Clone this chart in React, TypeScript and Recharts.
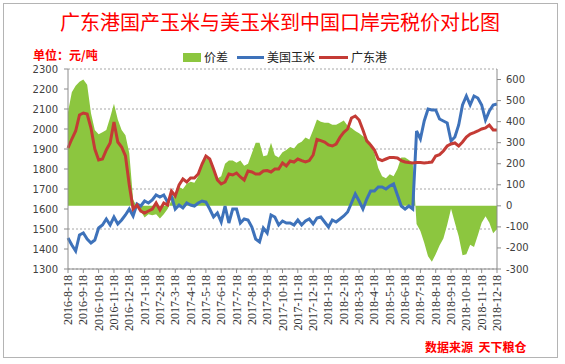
import React from "react";
import { Area, CartesianGrid, ComposedChart, Line, XAxis, YAxis } from "recharts";

// month tick labels (one every 4 weekly samples)
const months = [
  "2016-8-18", "2016-9-18", "2016-10-18", "2016-11-18", "2016-12-18",
  "2017-1-18", "2017-2-18", "2017-3-18", "2017-4-18", "2017-5-18", "2017-6-18",
  "2017-7-18", "2017-8-18", "2017-9-18", "2017-10-18", "2017-11-18", "2017-12-18",
  "2018-1-18", "2018-2-18", "2018-3-18", "2018-4-18", "2018-5-18", "2018-6-18",
  "2018-7-18", "2018-8-18", "2018-9-18", "2018-10-18", "2018-11-18", "2018-12-18",
];

// 美国玉米 (left axis, 元/吨), weekly
const usCorn = [
  1455, 1420, 1390, 1470, 1480, 1450, 1430, 1445, 1505, 1520,
  1550, 1520, 1560, 1525, 1545, 1570, 1600, 1565, 1625, 1615,
  1640, 1630, 1645, 1670, 1660, 1670, 1635, 1665, 1600, 1620,
  1605, 1630, 1620, 1615, 1630, 1640, 1635, 1600, 1560, 1580,
  1535, 1615, 1530, 1600, 1600, 1530, 1550, 1545, 1510, 1450,
  1435, 1505, 1480, 1570, 1560, 1520, 1540, 1530, 1530, 1520,
  1545, 1520, 1540, 1550, 1525, 1555, 1560, 1535, 1510, 1545,
  1535, 1550, 1565, 1585, 1630, 1675, 1640, 1600, 1650, 1690,
  1690, 1710, 1710, 1700, 1715, 1725, 1670, 1615, 1600, 1615,
  1600, 1990, 1950, 2040, 2100, 2095, 2095, 2050, 2040, 2030,
  1940, 1960, 2020, 2120, 2165, 2120, 2165, 2155, 2120, 2045,
  2090, 2120, 2125,
];

// 广东港 (left axis, 元/吨), weekly
const gdPort = [
  1905, 1950, 1990, 2070, 2080, 2075, 2005, 1900, 1845, 1850,
  1895, 1930, 2035, 1935, 1910, 1865, 1720, 1600, 1620, 1590,
  1580, 1590, 1600, 1630, 1595, 1630, 1620, 1690, 1665, 1720,
  1750, 1735, 1755, 1755, 1775, 1825, 1865, 1850, 1800, 1745,
  1725, 1735, 1775, 1770, 1780, 1760, 1745, 1790, 1785, 1775,
  1775, 1790, 1792, 1785, 1800, 1800, 1830, 1815, 1840, 1835,
  1850, 1842, 1835, 1842, 1870, 1948, 1942, 1935, 1920, 1915,
  1925, 1958, 1983, 2000, 2055, 2065, 2045, 1995, 1940, 1920,
  1895, 1850, 1842, 1850, 1858, 1858, 1855, 1842, 1835, 1832,
  1830, 1832, 1832, 1830, 1832, 1835, 1865, 1872, 1890, 1915,
  1925, 1930, 1915, 1935, 1960, 1975, 1982, 1990, 2000, 2005,
  2020, 1995, 1995,
];

// 价差 (right axis), weekly
const spread = [
  446, 540, 570, 590, 600, 575, 440, 360, 340, 350,
  360, 420, 485, 410, 360, 335, 250, 30, -5, -25,
  -55, -40, -45, -40, -60, -40, -15, 25, 60, 90,
  80, 105, 115, 110, 140, 200, 225, 220, 175, 130,
  140, 200, 215, 215, 205, 215, 190, 200, 250, 300,
  300, 235, 240, 300, 240, 230, 255, 265, 280, 272,
  295, 305, 325, 315, 360, 410, 400, 395, 395, 385,
  385, 395, 405, 380, 370, 355, 345, 330, 320, 300,
  250, 180, 140, 131, 150, 140, 175, 230, 230, 218,
  205, -86, -120, -175, -240, -265, -230, -188, -155, -90,
  -14, -80, -145, -235, -230, -185, -196, -140, -80, -50,
  -80, -130, -110,
];

const leftTicks = [1300, 1400, 1500, 1600, 1700, 1800, 1900, 2000, 2100, 2200, 2300];
const rightTicks = [-300, -200, -100, 0, 100, 200, 300, 400, 500, 600];
const monthTicks = months.map((_, i) => i);

const GREEN = "#8cc63f";
const BLUE = "#3e72ba";
const RED = "#c43b35";
const CJK = "'Noto Sans CJK SC', 'Noto Sans', sans-serif";

function MonthTick({ x, y, payload }: any) {
  return (
    <text
      x={x}
      y={y}
      transform={`rotate(-90 ${x} ${y})`}
      textAnchor="end"
      dominantBaseline="central"
      fontSize={12}
      fontFamily="'Liberation Serif', serif"
      fill="#333"
    >
      {months[payload.value]}
    </text>
  );
}

export default function App() {
  const data = usCorn.map((v, i) => ({
    t: i / 4,
    us: v,
    gd: gdPort[i],
    spread: spread[i],
  }));

  const axisTick = { fontSize: 10, fontFamily: "'DejaVu Sans', sans-serif", fill: "#404040" };

  return (
    <div style={{ position: "absolute", left: 0, top: 0, width: 565, height: 364, background: "#fff" }}>
      <div
        style={{
          position: "absolute", left: 3, top: 3, width: 553, height: 353,
          border: "1px solid #b4b4b4",
        }}
      />
      <div
        style={{
          position: "absolute", left: 0, top: 8, width: 560, textAlign: "center",
          fontFamily: CJK, fontSize: 20, color: "#ff0000", lineHeight: "28px",
        }}
      >
        广东港国产玉米与美玉米到中国口岸完税价对比图
      </div>
      <div
        style={{
          position: "absolute", left: 33, top: 47, fontFamily: CJK, fontSize: 12,
          fontWeight: "bold", color: "#ff0000", lineHeight: "16px",
        }}
      >
        单位：元/吨
      </div>

      {/* legend */}
      <div
        style={{
          position: "absolute", left: 183, top: 49, height: 16, display: "flex",
          alignItems: "center", fontFamily: CJK, fontSize: 12, color: "#222", lineHeight: "16px",
        }}
      >
        <span style={{ width: 18, height: 9, background: GREEN, marginRight: 3 }} />
        <span style={{ marginRight: 9 }}>价差</span>
        <span style={{ width: 27, height: 3, background: BLUE, marginRight: 3 }} />
        <span style={{ marginRight: 4 }}>美国玉米</span>
        <span style={{ width: 29, height: 3, background: RED, marginRight: 3 }} />
        <span>广东港</span>
      </div>

      <ComposedChart
        width={565}
        height={364}
        data={data}
        margin={{ top: 69, right: 28, bottom: 35, left: 28 }}
      >
        <CartesianGrid
          yAxisId="left"
          vertical={false}
          stroke="#a6a6a6"
          strokeDasharray="2 2"
        />
        <XAxis
          dataKey="t"
          type="number"
          domain={[0, 28]}
          ticks={monthTicks}
          interval={0}
          height={60}
          tickSize={4}
          tickMargin={2}
          stroke="#8c8c8c"
          tick={<MonthTick />}
        />
        <YAxis
          yAxisId="left"
          orientation="left"
          width={40}
          domain={[1300, 2300]}
          ticks={leftTicks}
          tickSize={4}
          tickMargin={6}
          stroke="#8c8c8c"
          tick={axisTick}
        />
        <YAxis
          yAxisId="right"
          orientation="right"
          width={40}
          domain={[-300, 650]}
          ticks={rightTicks}
          tickSize={4}
          tickMargin={5}
          stroke="#8c8c8c"
          tick={{ ...axisTick, textAnchor: "start" }}
        />
        <Area
          yAxisId="right"
          dataKey="spread"
          type="linear"
          baseValue={0}
          stroke="none"
          fill={GREEN}
          fillOpacity={1}
          isAnimationActive={false}
        />
        <Line
          yAxisId="left"
          dataKey="us"
          type="linear"
          stroke={BLUE}
          strokeWidth={3}
          dot={false}
          isAnimationActive={false}
        />
        <Line
          yAxisId="left"
          dataKey="gd"
          type="linear"
          stroke={RED}
          strokeWidth={3}
          dot={false}
          isAnimationActive={false}
        />
      </ComposedChart>

      <div
        style={{
          position: "absolute", left: 425, top: 339, fontFamily: CJK, fontSize: 12,
          fontWeight: "bold", color: "#ff0000", lineHeight: "16px", whiteSpace: "pre",
        }}
      >
        数据来源  天下粮仓
      </div>
    </div>
  );
}
